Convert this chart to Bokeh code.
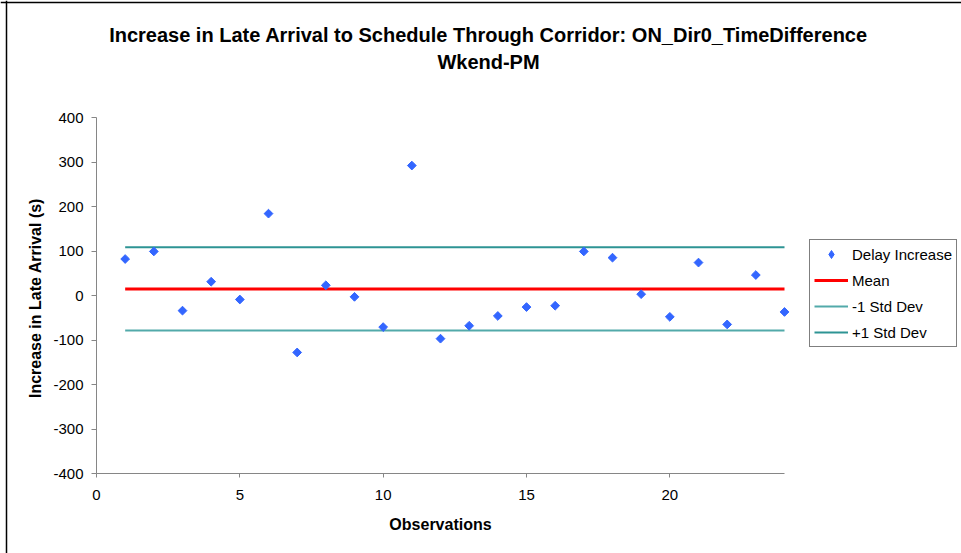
import numpy as np
from bokeh.plotting import figure
from bokeh.models import (Range1d, Label, Legend, LegendItem, FixedTicker,
                          PrintfTickFormatter, LinearAxis, Span)
from bokeh.embed import file_html
from bokeh.resources import INLINE

# ---- data ----
observations = list(range(1, 25))
delay_increase = [82, 99, -34, 31, -9, 184, -128, 23, -3, -71, 292, -97,
                  -68, -46, -26, -23, 99, 85, 3, -48, 74, -65, 46, -37]
mean_value = 14.8
minus_1_std = -78.8
plus_1_std = 108.4
x_ticks = [0, 5, 10, 15, 20]
y_ticks = [-400, -300, -200, -100, 0, 100, 200, 300, 400]
x_axis_min, x_axis_max = 0, 24
y_axis_min, y_axis_max = -400, 400
title_line1 = "Increase in Late Arrival to Schedule Through Corridor: ON_Dir0_TimeDifference"
title_line2 = "Wkend-PM"
x_label = "Observations"
y_label = "Increase in Late Arrival (s)"

FONT = "Liberation Sans"

# ---- layout (pixels): axes box x=96..784, y=117..473; the plotting frame
# covers the whole canvas and the axes are pinned inside it.
W, H = 961, 553
left, right_axis, top_axis, bottom = 96, 784, 117, 473
px_per_x = (right_axis - left) / (x_axis_max - x_axis_min)
px_per_y = (bottom - top_axis) / (y_axis_max - y_axis_min)


def dx(px):
    return x_axis_min + (px - left) / px_per_x


def dy(py):
    return y_axis_max - (py - top_axis) / px_per_y


p = figure(width=W, height=H, output_backend="svg", toolbar_location=None,
           x_range=Range1d(dx(0), dx(W)), y_range=Range1d(dy(H), dy(0)),
           x_axis_location=None, y_axis_location=None,
           min_border_left=0, min_border_right=0, min_border_top=0,
           min_border_bottom=0)
p.outline_line_color = None
p.xgrid.visible = False
p.ygrid.visible = False
p.background_fill_color = "white"
p.border_fill_color = "white"

# chart border (left and top edges)
p.add_layout(Span(location=dx(6), dimension="height", line_color="black", line_width=1.5))
p.add_layout(Span(location=dy(2), dimension="width", line_color="black", line_width=1.5))

x_span = [observations[0], observations[-1]]
r_plus = p.line(x_span, [plus_1_std, plus_1_std], line_color="#2E9494", line_width=2)
r_minus = p.line(x_span, [minus_1_std, minus_1_std], line_color="#52AAAA", line_width=2)
r_mean = p.line(x_span, [mean_value, mean_value], line_color="#FF0000", line_width=3)
r_pts = p.scatter(observations, delay_increase, marker="square", angle=np.pi / 4,
                  size=6.2, fill_color="#3366FF", line_color="#3366FF")
# legend proxy (not visible in the plot) so the legend shows a diamond
r_pts_legend = p.scatter(x=[np.nan], y=[np.nan], marker="diamond", size=11,
                         fill_color="#3366FF", line_color="#3366FF")

# axes pinned inside the frame
xaxis = LinearAxis(fixed_location=y_axis_min, bounds=(x_axis_min, x_axis_max),
                   ticker=FixedTicker(ticks=x_ticks))
yaxis = LinearAxis(fixed_location=x_axis_min, bounds=(y_axis_min, y_axis_max),
                   ticker=FixedTicker(ticks=y_ticks))
for ax in (xaxis, yaxis):
    ax.axis_line_color = "#868686"
    ax.major_tick_line_color = "#868686"
    ax.minor_tick_line_color = None
    ax.major_tick_in = 0
    ax.major_label_text_font = FONT
    ax.major_label_text_font_size = "15px"
    ax.major_label_text_color = "black"
    ax.formatter = PrintfTickFormatter(format="%d")
xaxis.major_tick_out = 4
yaxis.major_tick_out = 5
xaxis.major_label_standoff = 12
yaxis.major_label_standoff = 8
p.add_layout(xaxis, "below")
p.add_layout(yaxis, "left")

# axis titles
p.add_layout(Label(x=(x_axis_min + x_axis_max) / 2, y=dy(523.5), text=x_label,
                   text_align="center", text_baseline="alphabetic",
                   text_font=FONT, text_font_size="16px", text_font_style="bold",
                   text_color="black"))
p.add_layout(Label(x=dx(35), y=dy(297.5), text=y_label, angle=np.pi / 2,
                   text_align="center", text_baseline="middle",
                   text_font=FONT, text_font_size="16px", text_font_style="bold",
                   text_color="black"))

# chart title (two lines)
p.add_layout(Label(x=dx(488), y=dy(34.5), text=title_line1, text_align="center",
                   text_baseline="alphabetic", text_font=FONT, text_font_size="20px",
                   text_font_style="bold", text_color="black"))
p.add_layout(Label(x=dx(488), y=dy(61), text=title_line2, text_align="center",
                   text_baseline="alphabetic", text_font=FONT, text_font_size="20px",
                   text_font_style="bold", text_color="black"))

legend = Legend(items=[
    LegendItem(label="Delay Increase", renderers=[r_pts_legend]),
    LegendItem(label="Mean", renderers=[r_mean]),
    LegendItem(label="-1 Std Dev", renderers=[r_minus]),
    LegendItem(label="+1 Std Dev", renderers=[r_plus]),
], location=(809, H - 347))
legend.border_line_color = "black"
legend.border_line_width = 1
legend.background_fill_color = "white"
legend.background_fill_alpha = 1
legend.padding = 4
legend.margin = 0
legend.spacing = 6
legend.label_height = 20
legend.glyph_height = 20
legend.glyph_width = 34
legend.label_standoff = 4
legend.label_text_font = FONT
legend.label_text_font_size = "15px"
legend.label_text_color = "black"
p.add_layout(legend)

open("out.html", "w").write(file_html(p, INLINE))
